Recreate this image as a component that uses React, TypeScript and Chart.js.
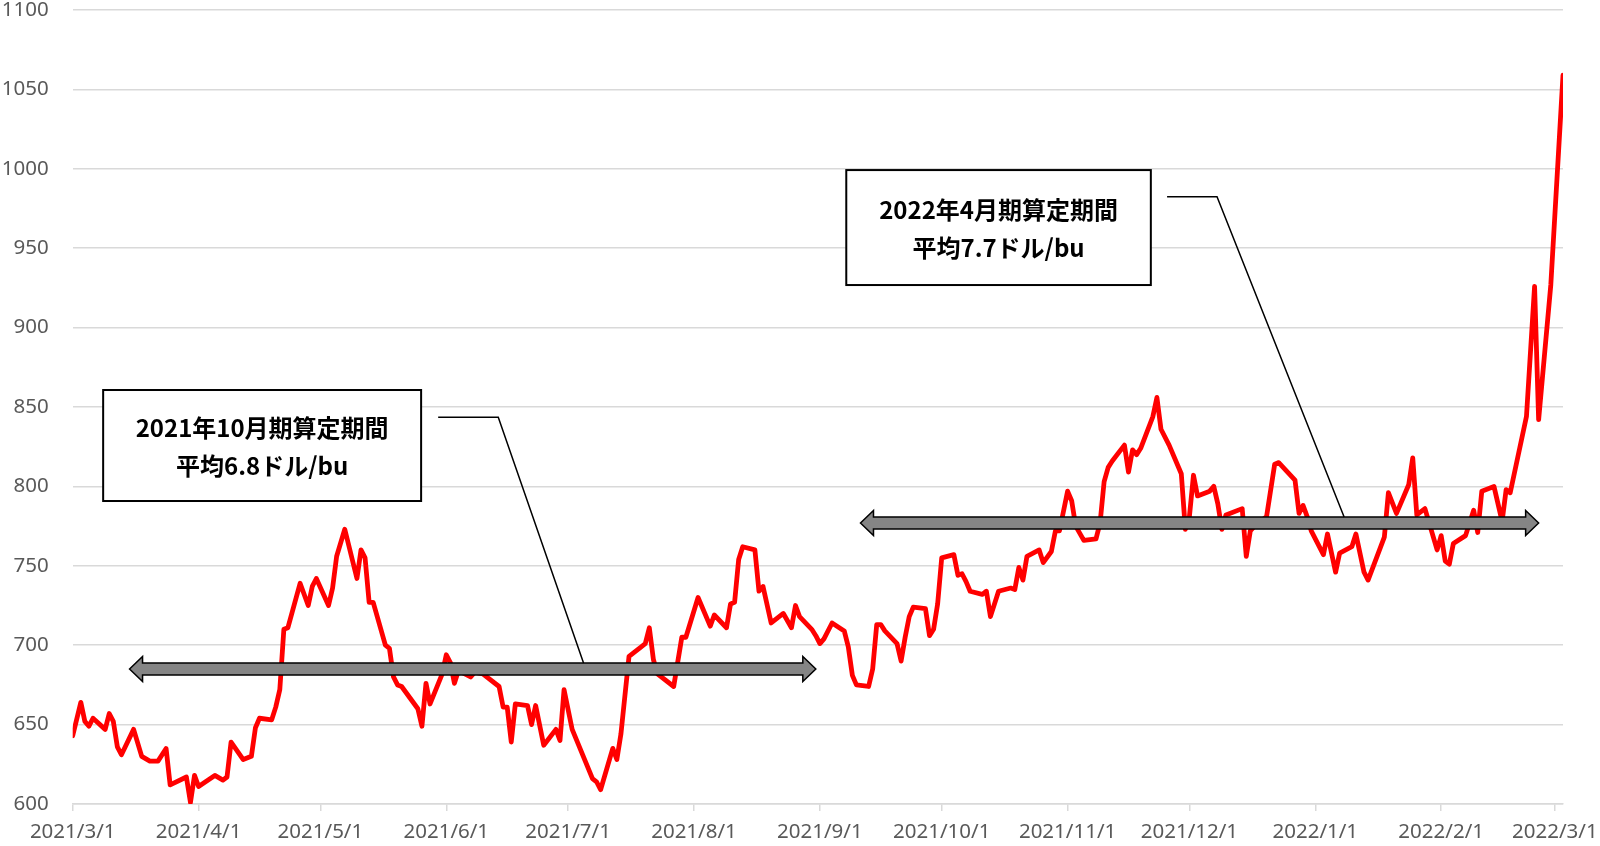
import React, { useEffect, useRef } from "react";
import { Chart, registerables } from "chart.js";

Chart.register(...registerables);

// ---- data ----
const dates = [
  "2021/3/1", "2021/3/3", "2021/3/4", "2021/3/5", "2021/3/6", "2021/3/9", "2021/3/10", "2021/3/11", "2021/3/12", "2021/3/13",
  "2021/3/16", "2021/3/18", "2021/3/20", "2021/3/22", "2021/3/24", "2021/3/25", "2021/3/29", "2021/3/30", "2021/3/31",
  "2021/4/1", "2021/4/5", "2021/4/7", "2021/4/8", "2021/4/9", "2021/4/12", "2021/4/14", "2021/4/15", "2021/4/16",
  "2021/4/19", "2021/4/20", "2021/4/21", "2021/4/22", "2021/4/23", "2021/4/26", "2021/4/28", "2021/4/29", "2021/4/30",
  "2021/5/3", "2021/5/4", "2021/5/5", "2021/5/7", "2021/5/10", "2021/5/11", "2021/5/12", "2021/5/13", "2021/5/14",
  "2021/5/17", "2021/5/18", "2021/5/19", "2021/5/20", "2021/5/21", "2021/5/25", "2021/5/26", "2021/5/27", "2021/5/28", "2021/5/31",
  "2021/6/1", "2021/6/2", "2021/6/3", "2021/6/4", "2021/6/7", "2021/6/8", "2021/6/10", "2021/6/14", "2021/6/15", "2021/6/16",
  "2021/6/17", "2021/6/18", "2021/6/21", "2021/6/22", "2021/6/23", "2021/6/25", "2021/6/28", "2021/6/29", "2021/6/30",
  "2021/7/2", "2021/7/7", "2021/7/8", "2021/7/9", "2021/7/12", "2021/7/13", "2021/7/14", "2021/7/16", "2021/7/19", "2021/7/20",
  "2021/7/21", "2021/7/22", "2021/7/23", "2021/7/27", "2021/7/29", "2021/7/30",
  "2021/8/2", "2021/8/5", "2021/8/6", "2021/8/9", "2021/8/10", "2021/8/11", "2021/8/12", "2021/8/13", "2021/8/16", "2021/8/17",
  "2021/8/18", "2021/8/20", "2021/8/23", "2021/8/25", "2021/8/26", "2021/8/27", "2021/8/30", "2021/8/31",
  "2021/9/1", "2021/9/2", "2021/9/4", "2021/9/7", "2021/9/8", "2021/9/9", "2021/9/10", "2021/9/13", "2021/9/14", "2021/9/15",
  "2021/9/16", "2021/9/17", "2021/9/20", "2021/9/21", "2021/9/22", "2021/9/23", "2021/9/24", "2021/9/27", "2021/9/28", "2021/9/29", "2021/9/30",
  "2021/10/1", "2021/10/4", "2021/10/5", "2021/10/6", "2021/10/7", "2021/10/8", "2021/10/11", "2021/10/12", "2021/10/13", "2021/10/15",
  "2021/10/18", "2021/10/19", "2021/10/20", "2021/10/21", "2021/10/22", "2021/10/25", "2021/10/26", "2021/10/28", "2021/10/29", "2021/10/30",
  "2021/11/1", "2021/11/2", "2021/11/3", "2021/11/5", "2021/11/8", "2021/11/9", "2021/11/10", "2021/11/11", "2021/11/12", "2021/11/15",
  "2021/11/16", "2021/11/17", "2021/11/18", "2021/11/19", "2021/11/22", "2021/11/23", "2021/11/24", "2021/11/26", "2021/11/29", "2021/11/30",
  "2021/12/1", "2021/12/2", "2021/12/3", "2021/12/6", "2021/12/7", "2021/12/8", "2021/12/9", "2021/12/10", "2021/12/14", "2021/12/15",
  "2021/12/16", "2021/12/17", "2021/12/20", "2021/12/22", "2021/12/23", "2021/12/27", "2021/12/28", "2021/12/29", "2021/12/30", "2021/12/31",
  "2022/1/3", "2022/1/4", "2022/1/6", "2022/1/7", "2022/1/10", "2022/1/11", "2022/1/13", "2022/1/14", "2022/1/18", "2022/1/19",
  "2022/1/21", "2022/1/24", "2022/1/25", "2022/1/26", "2022/1/28", "2022/1/31",
  "2022/2/1", "2022/2/2", "2022/2/3", "2022/2/4", "2022/2/7", "2022/2/9", "2022/2/10", "2022/2/11", "2022/2/14", "2022/2/16",
  "2022/2/17", "2022/2/18", "2022/2/22", "2022/2/24", "2022/2/25", "2022/2/28",
  "2022/3/3",
];

const prices = [
  643, 664, 652, 649, 654, 647, 657, 652, 636, 631,
  647, 630, 627, 627, 635, 612, 617, 601, 618,
  611, 618, 615, 617, 639, 628, 630, 648, 654,
  653, 661, 672, 710, 711, 739, 725, 737, 742,
  725, 736, 756, 773, 742, 760, 755, 727, 727,
  700, 698, 680, 675, 674, 660, 649, 676, 663, 682,
  694, 689, 676, 684, 680, 683, 682, 674, 661, 661,
  639, 663, 662, 650, 662, 637, 647, 640, 672,
  647, 616, 614, 609, 635, 628, 644, 693, 699, 701,
  711, 691, 682, 674, 705, 705,
  730, 712, 719, 711, 726, 727, 754, 762, 760, 734,
  737, 714, 720, 711, 725, 718, 710, 706,
  701, 704, 714, 709, 699, 681, 675, 674, 685, 713,
  713, 709, 701, 690, 705, 718, 724, 723, 706, 710, 726,
  755, 757, 744, 745, 740, 734, 732, 734, 718, 734,
  736, 735, 749, 741, 756, 760, 752, 759, 772, 772,
  797, 791, 775, 766, 767, 777, 803, 812, 816, 826,
  809, 823, 820, 824, 844, 856, 836, 826, 808, 773,
  781, 807, 794, 797, 800, 789, 773, 782, 786, 756,
  772, 775, 781, 814, 815, 804, 783, 788, 781, 772,
  757, 770, 746, 758, 762, 770, 746, 741, 768, 796,
  783, 801, 818, 782, 786, 760,
  769, 753, 751, 764, 769, 785, 771, 797, 800, 778,
  798, 796, 844, 926, 842, 927,
  1059,
];

const monthLabels = [
  "2021/3/1", "2021/4/1", "2021/5/1", "2021/6/1", "2021/7/1", "2021/8/1", "2021/9/1",
  "2021/10/1", "2021/11/1", "2021/12/1", "2022/1/1", "2022/2/1", "2022/3/1",
];

const yMin = 600;
const yMax = 1100;
const yStep = 50;

const periodTitles = ["2021年10月期算定期間", "2022年4月期算定期間"];
const periodAverages = ["平均6.8ドル/bu", "平均7.7ドル/bu"];
const periodStarts = ["2021/3/15", "2021/9/11"];
const periodEnds = ["2021/8/31", "2022/2/25"];
const periodLevels = [685, 777];

// ---- helpers ----
const BASE = Date.UTC(2021, 2, 1);
const toDay = (s: string) => {
  const [yy, mm, dd] = s.split("/").map(Number);
  return (Date.UTC(yy, mm - 1, dd) - BASE) / 86400000;
};

// annotation layout (in scale units: day offset / price)
const calloutLayout = [
  { box: [7.5, 85.8, 860.7, 790.8], leader: [[90, 843.5], [104.8, 843.5], [125.8, 688.8]] },
  { box: [190.5, 265.5, 999.2, 926.8], leader: [[269.5, 982.4], [281.8, 982.4], [313.1, 780.7]] },
];

const annotationPlugin = {
  id: "periodAnnotations",
  afterDatasetsDraw(chart: any) {
    const { ctx } = chart;
    const xs = chart.scales.x;
    const ys = chart.scales.y;
    ctx.save();
    // arrows
    periodStarts.forEach((s, i) => {
      const x1 = xs.getPixelForValue(toDay(s));
      const x2 = xs.getPixelForValue(toDay(periodEnds[i]));
      const cy = ys.getPixelForValue(periodLevels[i]);
      const hl = 13, hh = 12.5, sh = 6;
      ctx.beginPath();
      ctx.moveTo(x1, cy);
      ctx.lineTo(x1 + hl, cy - hh);
      ctx.lineTo(x1 + hl, cy - sh);
      ctx.lineTo(x2 - hl, cy - sh);
      ctx.lineTo(x2 - hl, cy - hh);
      ctx.lineTo(x2, cy);
      ctx.lineTo(x2 - hl, cy + hh);
      ctx.lineTo(x2 - hl, cy + sh);
      ctx.lineTo(x1 + hl, cy + sh);
      ctx.lineTo(x1 + hl, cy + hh);
      ctx.closePath();
      ctx.fillStyle = "#858585";
      ctx.fill();
      ctx.lineWidth = 1.5;
      ctx.strokeStyle = "#000000";
      ctx.lineJoin = "miter";
      ctx.stroke();
    });
    // callouts
    calloutLayout.forEach((c, i) => {
      const [d0, d1, vTop, vBot] = c.box;
      const left = xs.getPixelForValue(d0);
      const right = xs.getPixelForValue(d1);
      const top = ys.getPixelForValue(vTop);
      const bottom = ys.getPixelForValue(vBot);
      ctx.fillStyle = "#ffffff";
      ctx.fillRect(left, top, right - left, bottom - top);
      ctx.lineWidth = 2;
      ctx.strokeStyle = "#000000";
      ctx.strokeRect(left, top, right - left, bottom - top);
      const cx = (left + right) / 2;
      const cyb = (top + bottom) / 2;
      ctx.fillStyle = "#000000";
      ctx.font = 'bold 24px "Noto Sans CJK JP", "Noto Sans", sans-serif';
      ctx.textAlign = "center";
      ctx.textBaseline = "middle";
      ctx.fillText(periodTitles[i], cx, cyb - 17.5);
      ctx.fillText(periodAverages[i], cx, cyb + 20.5);
      // leader line
      ctx.beginPath();
      c.leader.forEach(([d, v], k) => {
        const px = xs.getPixelForValue(d);
        const py = ys.getPixelForValue(v);
        if (k === 0) ctx.moveTo(px, py);
        else ctx.lineTo(px, py);
      });
      ctx.lineWidth = 1.5;
      ctx.strokeStyle = "#000000";
      ctx.stroke();
    });
    ctx.restore();
  },
};

export default function App() {
  const canvasRef = useRef<HTMLCanvasElement | null>(null);

  useEffect(() => {
    const canvas = canvasRef.current;
    if (!canvas) return;
    const tickFont = { family: '"Noto Sans", sans-serif', size: 20.5 };
    const chart = new Chart(canvas, {
      type: "line",
      data: {
        datasets: [
          {
            data: dates.map((d, i) => ({ x: toDay(d), y: prices[i] })),
            borderColor: "#ff0000",
            borderWidth: 4.8,
            pointRadius: 0,
            tension: 0,
            fill: false,
            borderJoinStyle: "round",
            borderCapStyle: "round",
          },
        ],
      },
      options: {
        animation: false,
        responsive: false,
        devicePixelRatio: 1,
        layout: { padding: { top: 10, right: 37, left: 0, bottom: 0 } },
        plugins: { legend: { display: false }, tooltip: { enabled: false } },
        scales: {
          x: {
            type: "linear",
            min: 0,
            max: toDay(dates[dates.length - 1]),
            afterBuildTicks: (scale: any) => {
              scale.ticks = monthLabels.map((l) => ({ value: toDay(l) }));
            },
            afterFit: (scale: any) => {
              scale.height = 42;
              scale.paddingLeft = 0;
              scale.paddingRight = 0;
            },
            ticks: {
              autoSkip: false,
              maxRotation: 0,
              minRotation: 0,
              padding: 9,
              color: "#595959",
              font: tickFont,
              callback: (value: any) => {
                const idx = monthLabels.findIndex((l) => toDay(l) === value);
                return idx >= 0 ? monthLabels[idx] : "";
              },
            },
            grid: {
              drawOnChartArea: false,
              drawTicks: true,
              tickLength: 7,
              color: "#d9d9d9",
              lineWidth: 1.5,
            },
            border: { display: true, color: "#d9d9d9", width: 1.5 },
          },
          y: {
            type: "linear",
            min: yMin,
            max: yMax,
            afterFit: (scale: any) => {
              scale.width = 72.7;
              scale.paddingTop = 0;
              scale.paddingBottom = 0;
            },
            ticks: {
              stepSize: yStep,
              padding: 24,
              color: "#595959",
              font: tickFont,
              callback: (value: any) => String(value),
            },
            grid: { color: "#d9d9d9", lineWidth: 1.5, drawTicks: false },
            border: { display: false },
          },
        },
      },
      plugins: [annotationPlugin],
    } as any);
    return () => chart.destroy();
  }, []);

  return (
    <div style={{ position: "fixed", left: 0, top: 0, width: 1600, height: 846, background: "#ffffff" }}>
      <canvas ref={canvasRef} width={1600} height={846} style={{ display: "block" }} />
    </div>
  );
}
